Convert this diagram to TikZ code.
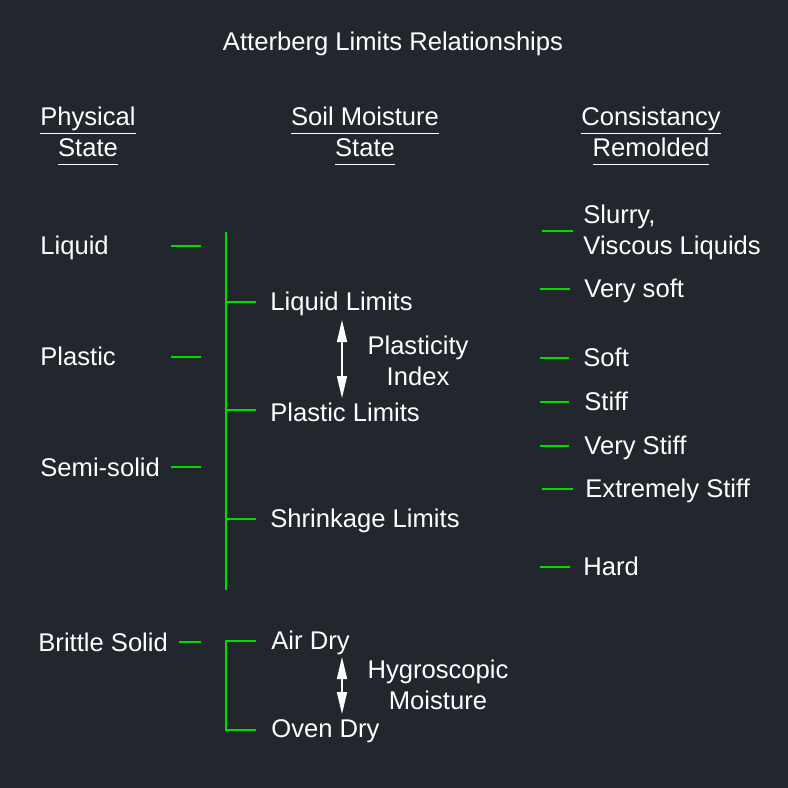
\documentclass[tikz,border=0pt]{standalone}
\usepackage{fontspec}
\setmainfont{Liberation Sans}
\usetikzlibrary{arrows.meta}
\definecolor{bgdark}{RGB}{34,39,46}
\definecolor{tickgreen}{RGB}{0,222,0}
\newcommand{\hdline}[1]{\underline{\vphantom{y}#1}}

\begin{document}
\begin{tikzpicture}[x=0.5pt,y=-0.5pt,
    every node/.style={text=white,font=\fontsize{12.8}{15.5}\selectfont,inner sep=0pt,
      text height=1.02em,text depth=0.16em},
    lbl/.style={anchor=west},
    tick/.style={draw=tickgreen,line width=1pt},
    span/.style={draw=white,line width=0.8pt,{Triangle[length=11pt,width=5pt,fill=white]}-{Triangle[length=11pt,width=5pt,fill=white]}}]
        \fill[bgdark] (0,0) rectangle (788,788);
        \useasboundingbox (0,0) rectangle (788,788);
        % title and column heads (two-line nodes sit on their last line)
        \node (title) at (393,42) {Atterberg Limits Relationships};
        \node[align=center] (hphys) at (88,148) {\hdline{Physical}\\\hdline{State}};
        \node[align=center] (hsoil) at (365,148) {\hdline{Soil Moisture}\\\hdline{State}};
        \node[align=center] (hcons) at (651,148) {\hdline{Consistancy}\\\hdline{Remolded}};
        % physical state
        \node[lbl] (liquid) at (40,246) {Liquid};
        \node[lbl] (plastic) at (40,357) {Plastic};
        \node[lbl] (semi) at (40,468) {Semi-solid};
        \node[lbl] (brittle) at (38,643) {Brittle Solid};
        \draw[tick] (171,246) -- (201,246);
        \draw[tick] (171,357) -- (201,357);
        \draw[tick] (171,467) -- (201,467);
        \draw[tick] (179,642) -- (201,642);
        % soil moisture state
        \draw[tick] (226,232) -- (226,590);
        \draw[tick] (226,302) -- (256,302);
        \draw[tick] (226,410) -- (256,410);
        \draw[tick] (226,519) -- (256,519);
        \node[lbl] (ll) at (270,302) {Liquid Limits};
        \node[lbl] (pl) at (270,413) {Plastic Limits};
        \node[lbl] (sl) at (270,519) {Shrinkage Limits};
        \coordinate (pitop) at (342,320);
        \coordinate (pibot) at (342,398);
        \draw[span] (pitop) -- (pibot);
        \node[align=center] (pi) at (418,377) {Plasticity\\Index};
        \draw[tick] (256,641) -- (226,641) -- (226,730) -- (256,730);
        \node[lbl] (airdry) at (271,641) {Air Dry};
        \node[lbl] (ovendry) at (271,729) {Oven Dry};
        \coordinate (hmtop) at (342,657);
        \coordinate (hmbot) at (342,714);
        \draw[span] (hmtop) -- (hmbot);
        \node[align=center] (hm) at (438,701) {Hygroscopic\\Moisture};
        % consistency
        \node[lbl,align=left] (slurry) at (583,246) {Slurry,\\Viscous Liquids};
        \node[lbl] (vsoft) at (584,289) {Very soft};
        \node[lbl] (soft) at (583,358) {Soft};
        \node[lbl] (stiff) at (584,402) {Stiff};
        \node[lbl] (vstiff) at (584,446) {Very Stiff};
        \node[lbl] (xstiff) at (585,489) {Extremely Stiff};
        \node[lbl] (hard) at (583,567) {Hard};
        \draw[tick] (542,231) -- (573,231);
        \draw[tick] (540,289) -- (570,289);
        \draw[tick] (540,358) -- (569,358);
        \draw[tick] (540,402) -- (569,402);
        \draw[tick] (540,446) -- (569,446);
        \draw[tick] (542,489) -- (573,489);
        \draw[tick] (540,567) -- (570,567);
\end{tikzpicture}
\end{document}
